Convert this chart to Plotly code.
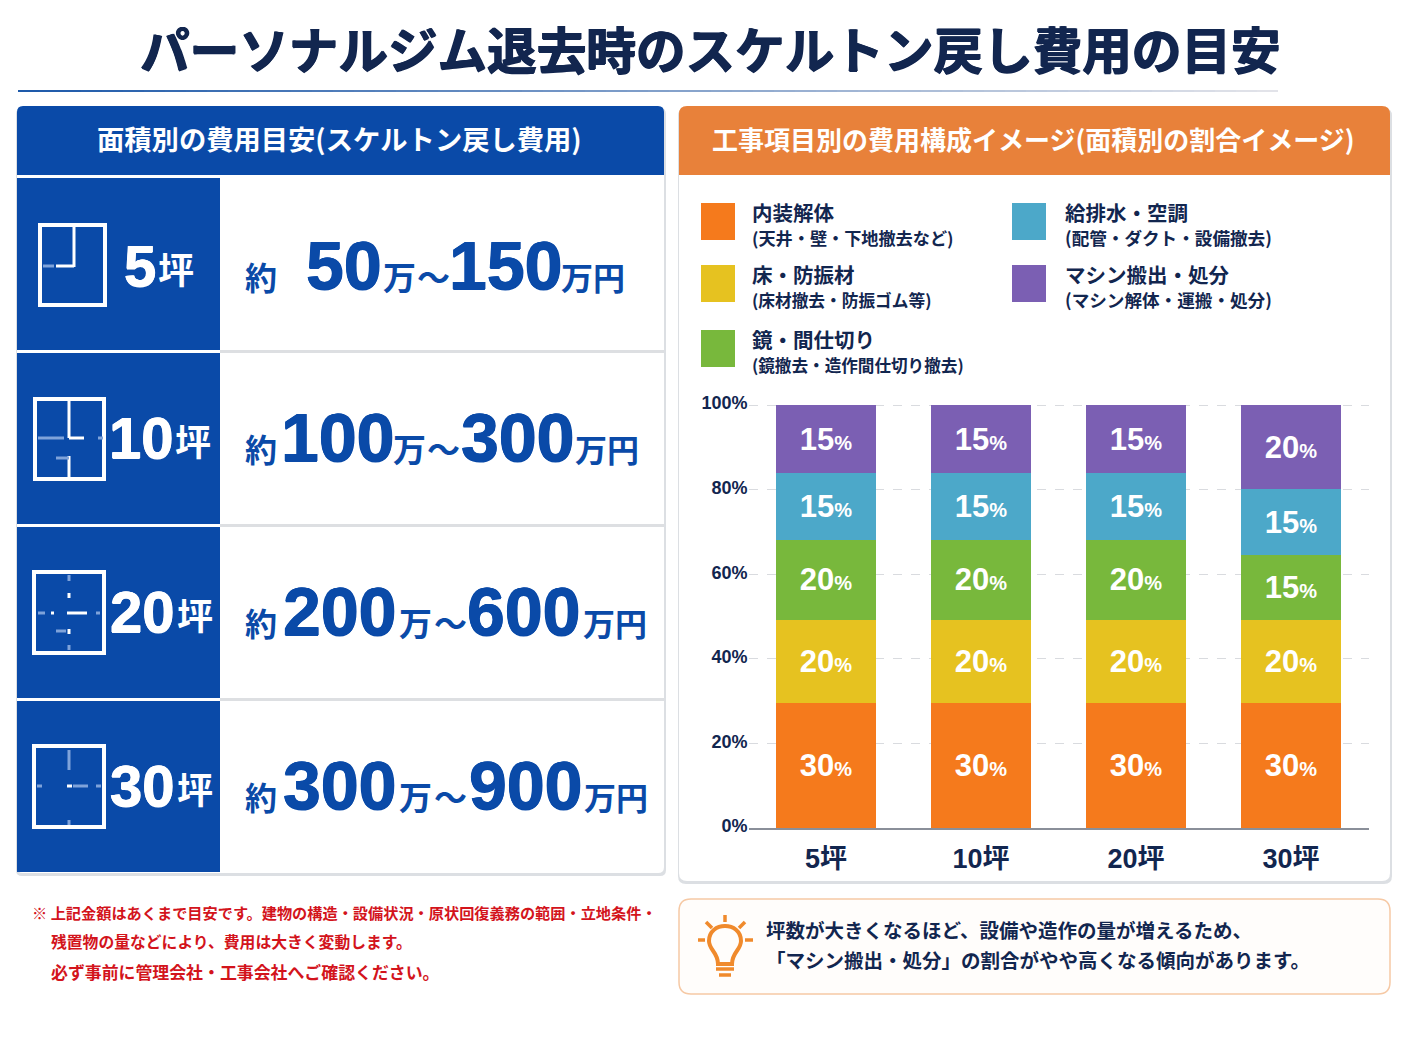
import plotly.graph_objects as go

W = 1408
H = 1056
PAGE_GAP = 8  # the html body keeps its default margin
JP = "Noto Sans CJK JP"
NUM = "Liberation Sans, Noto Sans CJK JP"
NAVY = "#12264f"
BLUE = "#0a4aa8"
ORANGE = "#e8813a"

# chart data (bottom to top)
areas = ["5坪", "10坪", "20坪", "30坪"]
series_names = ["内装解体", "床・防振材", "鏡・間仕切り", "給排水・空調", "マシン搬出・処分"]
series_notes = ["(天井・壁・下地撤去など)", "(床材撤去・防振ゴム等)", "(鏡撤去・造作間仕切り撤去)",
                "(配管・ダクト・設備撤去)", "(マシン解体・運搬・処分)"]
series_colors = ["#f57a1c", "#e6c220", "#78b83c", "#4ca8c9", "#7b5fb3"]
naiso = [29.6, 29.6, 29.6, 29.6]
yuka = [19.6, 19.6, 19.6, 19.6]
kagami = [18.9, 18.9, 18.9, 15.3]
kyuhaisui = [15.8, 15.8, 15.8, 15.6]
machine = [16.1, 16.1, 16.1, 19.9]
naiso_labels = ["30", "30", "30", "30"]
yuka_labels = ["20", "20", "20", "20"]
kagami_labels = ["20", "20", "20", "15"]
kyuhaisui_labels = ["15", "15", "15", "15"]
machine_labels = ["15", "15", "15", "20"]
y_ticks = [0, 20, 40, 60, 80, 100]

# left table
range_low = ["50", "100", "200", "300"]
range_high = ["150", "300", "600", "900"]

title_text = "パーソナルジム退去時のスケルトン戻し費用の目安"
left_header = "面積別の費用目安(スケルトン戻し費用)"
right_header = "工事項目別の費用構成イメージ(面積別の割合イメージ)"
notes_red = ["※ 上記金額はあくまで目安です。建物の構造・設備状況・原状回復義務の範囲・立地条件・",
             "残置物の量などにより、費用は大きく変動します。",
             "必ず事前に管理会社・工事会社へご確認ください。"]
notes_tip = ["坪数が大きくなるほど、設備や造作の量が増えるため、",
             "「マシン搬出・処分」の割合がやや高くなる傾向があります。"]

FIG_W = W - 2 * PAGE_GAP
FIG_H = H - 2 * PAGE_GAP


def px(x):
    return (x - PAGE_GAP) / FIG_W


def py(y):
    return 1 - (y - PAGE_GAP) / FIG_H


shapes = []
annotations = []


def rect(x0, y0, x1, y1, fill, line=None, width=0):
    shapes.append(dict(type="rect", xref="paper", yref="paper", x0=px(x0), x1=px(x1), y0=py(y0), y1=py(y1),
                       fillcolor=fill, line=dict(color=line, width=width) if line else dict(width=0),
                       layer="below"))


def seg(x0, y0, x1, y1, color, width=3):
    shapes.append(dict(type="line", xref="paper", yref="paper", x0=px(x0), x1=px(x1), y0=py(y0), y1=py(y1),
                       line=dict(color=color, width=width), layer="below"))


def round_box(x0, y0, x1, y1, r, fill, line=None, width=0, top_only=False):
    a0, b0, a1, b1 = px(x0), py(y0), px(x1), py(y1)
    rx, ry = r / FIG_W, r / FIG_H
    if top_only:
        p = (f"M {a0} {b1} L {a0} {b0 - ry} Q {a0} {b0} {a0 + rx} {b0} L {a1 - rx} {b0} "
             f"Q {a1} {b0} {a1} {b0 - ry} L {a1} {b1} Z")
    else:
        p = (f"M {a0} {b1 + ry} L {a0} {b0 - ry} Q {a0} {b0} {a0 + rx} {b0} L {a1 - rx} {b0} "
             f"Q {a1} {b0} {a1} {b0 - ry} L {a1} {b1 + ry} Q {a1} {b1} {a1 - rx} {b1} "
             f"L {a0 + rx} {b1} Q {a0} {b1} {a0} {b1 + ry} Z")
    shapes.append(dict(type="path", xref="paper", yref="paper", path=p, fillcolor=fill,
                       line=dict(color=line, width=width) if line else dict(width=0),
                       layer="below"))


def text(x, y, s, size, color=NAVY, family=JP, anchor="left", heavy=0):
    # the CJK font sits a little low in its line box
    if family == JP:
        y -= 0.06 * size
    font = dict(family=family, size=size, color=color)
    if heavy:
        font["shadow"] = f"{heavy}px 0 0 {color}, -{heavy}px 0 0 {color}, 0 {heavy}px 0 {color}"
    annotations.append(dict(xref="paper", yref="paper", x=px(x), y=py(y), text=f"<b>{s}</b>",
                            showarrow=False, xanchor=anchor, yanchor="middle", align=anchor,
                            font=font, borderpad=0, borderwidth=0))


# title and fading rule under it
text(710, 50, title_text, 49.6, anchor="center", heavy=0.8)
rule_steps = 60
for i in range(rule_steps):
    t = i / rule_steps
    r = int(30 + 200 * t)
    g = int(90 + 140 * t)
    b = int(170 + 65 * t)
    seg(18 + 1260 * t, 91, 18 + 1260 * (t + 1 / rule_steps), 91, f"rgb({r},{g},{b})", 2)

# cards
round_box(16, 108, 666, 876, 6, "#dcdfe3")
round_box(17, 106, 664, 873, 6, "#ffffff")
round_box(678, 108, 1392, 884, 8, "#dcdfe3")
round_box(679, 106, 1390, 881, 8, "#ffffff")
round_box(17, 106, 664, 175, 6, BLUE, top_only=True)
round_box(679, 106, 1390, 175, 8, ORANGE, top_only=True)
text(339, 140, left_header, 27.3, "#ffffff", anchor="center")
text(1033, 140, right_header, 26, "#ffffff", anchor="center")

# table rows
row_top = [178, 353, 527, 701]
row_bottom = [350, 524, 698, 872]
digit_y = [265, 437, 611, 785]
low_x = [344, 337, 339, 339]
man_x = [399, 409, 415, 415]
tilde_x = [433, 444, 450, 450]
high_x = [505, 517, 523, 525]
yen_x = [593, 607, 615, 616]
area_x = [140, 141, 142, 142]
tsubo_x = [176, 193, 195, 195]
for i in range(4):
    rect(17, row_top[i], 220, row_bottom[i], BLUE)
    if i < 3:
        seg(220, row_bottom[i] + 1.5, 664, row_bottom[i] + 1.5, "#dddfe2", 3)
        seg(17, row_bottom[i] + 1.5, 220, row_bottom[i] + 1.5, "#ffffff", 3)
    y = digit_y[i]
    text(area_x[i], y, areas[i].replace("坪", ""), 58, "#ffffff", NUM, anchor="center", heavy=0.5)
    text(tsubo_x[i], y + 5, "坪", 36, "#ffffff", anchor="center")
    text(261, y + 13, "約", 32, BLUE, anchor="center")
    text(low_x[i], y, range_low[i], 68, BLUE, NUM, anchor="center", heavy=0.6)
    text(man_x[i], y + 13, "万", 33, BLUE, anchor="center")
    text(tilde_x[i], y + 13, "～", 33, BLUE, anchor="center")
    text(high_x[i], y, range_high[i], 68, BLUE, NUM, anchor="center", heavy=0.6)
    text(yen_x[i], y + 13, "万円", 32, BLUE, anchor="center")

# floor plan icons
plan_boxes = [(40, 225, 105, 305), (35, 399, 104, 479), (34, 572, 104, 653), (34, 746, 104, 827)]
plan_solid = [
    [(74, 225, 74, 267), (56, 266, 74, 266)],
    [(69, 399, 69, 438), (69, 438, 84, 438), (69, 456, 69, 479)],
    [(69, 593, 69, 598), (67, 613, 87, 613), (69, 629, 69, 634), (51, 613, 54, 613)],
    [(67, 786, 72, 786)],
]
plan_faint = [
    [(43, 266, 54, 266)],
    [(38, 438, 64, 438), (56, 458, 69, 458), (98, 438, 103, 438)],
    [(69, 575, 69, 581), (38, 613, 45, 613), (96, 613, 100, 613), (56, 631, 66, 631), (69, 645, 69, 650)],
    [(69, 750, 69, 770), (73, 786, 88, 786), (96, 786, 101, 786), (37, 786, 42, 786), (69, 820, 69, 825)],
]
for i in range(4):
    x0, y0, x1, y1 = plan_boxes[i]
    rect(x0, y0, x1, y1, "rgba(0,0,0,0)", "#ffffff", 4)
    for a in plan_solid[i]:
        seg(*a, "#ffffff", 3)
    for a in plan_faint[i]:
        seg(*a, "#7fa3da", 3)

# hand placed legend, two columns like the source
legend_x = [701, 701, 701, 1012, 1012]
legend_y = [203, 265, 330, 203, 265]
legend_gap = [51, 51, 51, 53, 53]
note_sizes = [17.15, 16.7, 16.6, 17.6, 17.6]
for k, name in enumerate(series_names):
    x, y = legend_x[k], legend_y[k]
    rect(x, y, x + 34, y + 37, series_colors[k])
    text(x + legend_gap[k], y + 10, name, 20.5)
    text(x + legend_gap[k], y + 36, series_notes[k], note_sizes[k])

# footnotes, the source squeezes the first line
note_y = [913, 942, 973]
note_x = [32, 51, 51]
red_sizes = [15.2, 15.8, 16.9]
for s, x, y, size in zip(notes_red, note_x, note_y, red_sizes):
    text(x, y, s, size, "#d3141c")

# tip box with bulb
round_box(679, 899, 1390, 994, 12, "#fffdfb", "#f6c9a5", 1.5)
for s, y in zip(notes_tip, [931, 961]):
    text(766, y, s, 19.5)
BULB = "#f08a2c"
shapes.append(dict(type="path", xref="paper", yref="paper", layer="below",
                   line=dict(color=BULB, width=4),
                   path=(f"M {px(718)} {py(964)} C {px(718)} {py(952)} {px(709)} {py(950)} {px(709)} {py(941)} "
                         f"C {px(709)} {py(921)} {px(741)} {py(921)} {px(741)} {py(941)} "
                         f"C {px(741)} {py(950)} {px(732)} {py(952)} {px(732)} {py(964)} Z")))
seg(716, 969, 734, 969, BULB, 3.5)
seg(719, 975, 731, 975, BULB, 3.5)
for a in [(725, 915, 725, 922), (706, 922, 712, 928), (745, 922, 739, 928),
          (698, 940, 705, 940), (745, 940, 753, 940)]:
    seg(*a, BULB, 3.5)

fig = go.Figure()
series_values = [naiso, yuka, kagami, kyuhaisui, machine]
series_labels = [naiso_labels, yuka_labels, kagami_labels, kyuhaisui_labels, machine_labels]
for name, vals, labels, color in zip(series_names, series_values, series_labels, series_colors):
    fig.add_trace(go.Bar(
        x=areas, y=vals, name=name, marker=dict(color=color, line=dict(width=0)),
        text=[f"<b>{v}<span style='font-size:20px'>%</span></b>" for v in labels],
        textposition="inside", insidetextanchor="middle", textangle=0,
        insidetextfont=dict(family=NUM, size=31, color="#ffffff"),
        hoverinfo="skip",
    ))

fig.update_layout(
    width=FIG_W, height=FIG_H, barmode="stack", bargap=0.35, showlegend=False,
    margin=dict(l=0, r=0, t=0, b=0, autoexpand=False), paper_bgcolor="#ffffff", plot_bgcolor="rgba(0,0,0,0)",
    shapes=shapes, annotations=annotations,
)
fig.update_xaxes(domain=[px(748.5), px(1368.5)], showgrid=False, showline=True, linecolor="#8a8f99", linewidth=1.5,
                 ticks="", ticklabelstandoff=6, tickfont=dict(family=NUM, size=27, color=NAVY, weight="bold"))
fig.update_yaxes(domain=[py(828), py(400.8)], range=[0, 101], tickvals=y_ticks,
                 ticktext=[f"{v}%" for v in y_ticks], ticklabelshift=-2,
                 showgrid=True, gridcolor="#d9dbdf", griddash="dash", gridwidth=1, zeroline=False,
                 showline=False, ticks="", tickfont=dict(family=NUM, size=18, color=NAVY, weight="bold"))

fig.write_html("out.html")
